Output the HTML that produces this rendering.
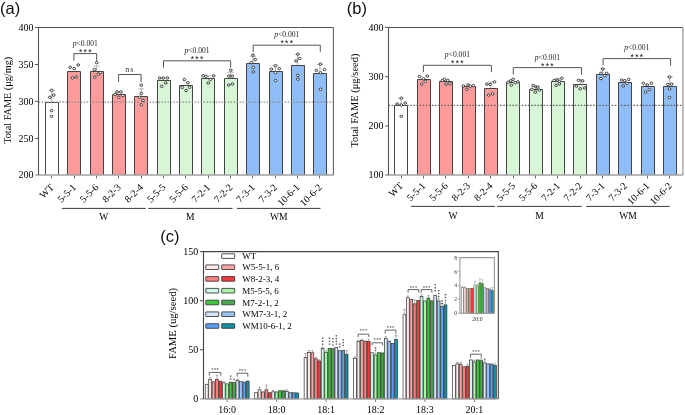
<!DOCTYPE html><html><head><meta charset="utf-8"><style>html,body{margin:0;padding:0;background:#fff;overflow:hidden}svg{display:block;will-change:transform}</style></head><body>
<svg width="685" height="415" viewBox="0 0 685 415" font-family='"Liberation Serif", serif'>
<rect width="685" height="415" fill="#fff"/>
<rect x="45.5" y="102.5" width="13" height="72.6" fill="#ffffff"/>
<path d="M45.5 175.1V102.5H58.5V175.1" fill="none" stroke="#444" stroke-width="1"/>
<rect x="67.5" y="71.5" width="13" height="103.6" fill="#ff9b9b"/>
<path d="M67.5 175.1V71.5H80.5V175.1" fill="none" stroke="#444" stroke-width="1"/>
<rect x="90.5" y="71.5" width="13" height="103.6" fill="#ff9b9b"/>
<path d="M90.5 175.1V71.5H103.5V175.1" fill="none" stroke="#444" stroke-width="1"/>
<rect x="112.5" y="94.5" width="13" height="80.6" fill="#ff9b9b"/>
<path d="M112.5 175.1V94.5H125.5V175.1" fill="none" stroke="#444" stroke-width="1"/>
<rect x="134.5" y="96.5" width="13" height="78.6" fill="#ff9b9b"/>
<path d="M134.5 175.1V96.5H147.5V175.1" fill="none" stroke="#444" stroke-width="1"/>
<rect x="157.5" y="80.5" width="13" height="94.6" fill="#d6f6d6"/>
<path d="M157.5 175.1V80.5H170.5V175.1" fill="none" stroke="#444" stroke-width="1"/>
<rect x="179.5" y="85.5" width="13" height="89.6" fill="#d6f6d6"/>
<path d="M179.5 175.1V85.5H192.5V175.1" fill="none" stroke="#444" stroke-width="1"/>
<rect x="201.5" y="78.5" width="13" height="96.6" fill="#d6f6d6"/>
<path d="M201.5 175.1V78.5H214.5V175.1" fill="none" stroke="#444" stroke-width="1"/>
<rect x="224.5" y="78.5" width="13" height="96.6" fill="#d6f6d6"/>
<path d="M224.5 175.1V78.5H237.5V175.1" fill="none" stroke="#444" stroke-width="1"/>
<rect x="246.5" y="63.5" width="13" height="111.6" fill="#8fbdf7"/>
<path d="M246.5 175.1V63.5H259.5V175.1" fill="none" stroke="#444" stroke-width="1"/>
<rect x="269.5" y="71.5" width="13" height="103.6" fill="#8fbdf7"/>
<path d="M269.5 175.1V71.5H282.5V175.1" fill="none" stroke="#444" stroke-width="1"/>
<rect x="291.5" y="65.5" width="13" height="109.6" fill="#8fbdf7"/>
<path d="M291.5 175.1V65.5H304.5V175.1" fill="none" stroke="#444" stroke-width="1"/>
<rect x="313.5" y="73.5" width="13" height="101.6" fill="#8fbdf7"/>
<path d="M313.5 175.1V73.5H326.5V175.1" fill="none" stroke="#444" stroke-width="1"/>
<line x1="38.5" y1="102.1" x2="333.4" y2="102.1" stroke="#8a8a8a" stroke-width="1.3" stroke-dasharray="1.5 1.5"/>
<line x1="51.9" y1="102.2" x2="51.9" y2="90.3" stroke="#888" stroke-width="0.7"/>
<line x1="48.9" y1="90.3" x2="54.9" y2="90.3" stroke="#999" stroke-width="0.7"/>
<line x1="96.58" y1="71.3" x2="96.58" y2="66" stroke="#888" stroke-width="0.7"/>
<line x1="93.58" y1="66" x2="99.58" y2="66" stroke="#999" stroke-width="0.7"/>
<line x1="141.26" y1="96.3" x2="141.26" y2="88.8" stroke="#888" stroke-width="0.7"/>
<line x1="138.26" y1="88.8" x2="144.26" y2="88.8" stroke="#999" stroke-width="0.7"/>
<line x1="208.28" y1="78.4" x2="208.28" y2="75.8" stroke="#888" stroke-width="0.7"/>
<line x1="205.28" y1="75.8" x2="211.28" y2="75.8" stroke="#999" stroke-width="0.7"/>
<line x1="230.62" y1="78.4" x2="230.62" y2="72.3" stroke="#888" stroke-width="0.7"/>
<line x1="227.62" y1="72.3" x2="233.62" y2="72.3" stroke="#999" stroke-width="0.7"/>
<line x1="252.96" y1="63.3" x2="252.96" y2="56.6" stroke="#888" stroke-width="0.7"/>
<line x1="249.96" y1="56.6" x2="255.96" y2="56.6" stroke="#999" stroke-width="0.7"/>
<line x1="275.3" y1="71.2" x2="275.3" y2="65.5" stroke="#888" stroke-width="0.7"/>
<line x1="272.3" y1="65.5" x2="278.3" y2="65.5" stroke="#999" stroke-width="0.7"/>
<line x1="297.64" y1="65.4" x2="297.64" y2="54.4" stroke="#888" stroke-width="0.7"/>
<line x1="294.64" y1="54.4" x2="300.64" y2="54.4" stroke="#999" stroke-width="0.7"/>
<line x1="319.98" y1="73.3" x2="319.98" y2="64.5" stroke="#888" stroke-width="0.7"/>
<line x1="316.98" y1="64.5" x2="322.98" y2="64.5" stroke="#999" stroke-width="0.7"/>
<ellipse cx="51.6" cy="90.3" rx="1.4" ry="1.2" fill="#fff" stroke="#222" stroke-width="0.85"/>
<ellipse cx="53.7" cy="95.1" rx="1.4" ry="1.2" fill="#fff" stroke="#222" stroke-width="0.85"/>
<ellipse cx="49.9" cy="97.3" rx="1.4" ry="1.2" fill="#fff" stroke="#222" stroke-width="0.85"/>
<ellipse cx="51.6" cy="110.6" rx="1.4" ry="1.2" fill="#fff" stroke="#222" stroke-width="0.85"/>
<ellipse cx="51.6" cy="116.3" rx="1.4" ry="1.2" fill="#fff" stroke="#222" stroke-width="0.85"/>
<ellipse cx="70.2" cy="67.3" rx="1.4" ry="1.2" fill="#fff" stroke="#222" stroke-width="0.85"/>
<ellipse cx="74.2" cy="68.6" rx="1.4" ry="1.2" fill="#fff" stroke="#222" stroke-width="0.85"/>
<ellipse cx="78.2" cy="65" rx="1.4" ry="1.2" fill="#fff" stroke="#222" stroke-width="0.85"/>
<ellipse cx="72.5" cy="77.9" rx="1.4" ry="1.2" fill="#fff" stroke="#222" stroke-width="0.85"/>
<ellipse cx="76.1" cy="77" rx="1.4" ry="1.2" fill="#fff" stroke="#222" stroke-width="0.85"/>
<ellipse cx="96.7" cy="62.7" rx="1.4" ry="1.2" fill="#fff" stroke="#222" stroke-width="0.85"/>
<ellipse cx="94.4" cy="69.5" rx="1.4" ry="1.2" fill="#fff" stroke="#222" stroke-width="0.85"/>
<ellipse cx="98.3" cy="74.3" rx="1.4" ry="1.2" fill="#fff" stroke="#222" stroke-width="0.85"/>
<ellipse cx="100.3" cy="72.6" rx="1.4" ry="1.2" fill="#fff" stroke="#222" stroke-width="0.85"/>
<ellipse cx="94.8" cy="77.2" rx="1.4" ry="1.2" fill="#fff" stroke="#222" stroke-width="0.85"/>
<ellipse cx="115.2" cy="94.4" rx="1.4" ry="1.2" fill="#fff" stroke="#222" stroke-width="0.85"/>
<ellipse cx="117.1" cy="91.9" rx="1.4" ry="1.2" fill="#fff" stroke="#222" stroke-width="0.85"/>
<ellipse cx="118.8" cy="97.3" rx="1.4" ry="1.2" fill="#fff" stroke="#222" stroke-width="0.85"/>
<ellipse cx="120.8" cy="91.9" rx="1.4" ry="1.2" fill="#fff" stroke="#222" stroke-width="0.85"/>
<ellipse cx="122.9" cy="95.4" rx="1.4" ry="1.2" fill="#fff" stroke="#222" stroke-width="0.85"/>
<ellipse cx="141.3" cy="85.2" rx="1.4" ry="1.2" fill="#fff" stroke="#222" stroke-width="0.85"/>
<ellipse cx="141.3" cy="93.4" rx="1.4" ry="1.2" fill="#fff" stroke="#222" stroke-width="0.85"/>
<ellipse cx="139.5" cy="97.3" rx="1.4" ry="1.2" fill="#fff" stroke="#222" stroke-width="0.85"/>
<ellipse cx="143" cy="100.3" rx="1.4" ry="1.2" fill="#fff" stroke="#222" stroke-width="0.85"/>
<ellipse cx="141.3" cy="104.8" rx="1.4" ry="1.2" fill="#fff" stroke="#222" stroke-width="0.85"/>
<ellipse cx="159.7" cy="78.1" rx="1.4" ry="1.2" fill="#fff" stroke="#222" stroke-width="0.85"/>
<ellipse cx="161.7" cy="86.4" rx="1.4" ry="1.2" fill="#fff" stroke="#222" stroke-width="0.85"/>
<ellipse cx="163.2" cy="78.1" rx="1.4" ry="1.2" fill="#fff" stroke="#222" stroke-width="0.85"/>
<ellipse cx="165.8" cy="83" rx="1.4" ry="1.2" fill="#fff" stroke="#222" stroke-width="0.85"/>
<ellipse cx="167.3" cy="77.9" rx="1.4" ry="1.2" fill="#fff" stroke="#222" stroke-width="0.85"/>
<ellipse cx="184.3" cy="79.6" rx="1.4" ry="1.2" fill="#fff" stroke="#222" stroke-width="0.85"/>
<ellipse cx="187.9" cy="82.7" rx="1.4" ry="1.2" fill="#fff" stroke="#222" stroke-width="0.85"/>
<ellipse cx="182.3" cy="87.4" rx="1.4" ry="1.2" fill="#fff" stroke="#222" stroke-width="0.85"/>
<ellipse cx="189.6" cy="87.4" rx="1.4" ry="1.2" fill="#fff" stroke="#222" stroke-width="0.85"/>
<ellipse cx="186.1" cy="90.5" rx="1.4" ry="1.2" fill="#fff" stroke="#222" stroke-width="0.85"/>
<ellipse cx="203.2" cy="75.8" rx="1.4" ry="1.2" fill="#fff" stroke="#222" stroke-width="0.85"/>
<ellipse cx="205.8" cy="76.3" rx="1.4" ry="1.2" fill="#fff" stroke="#222" stroke-width="0.85"/>
<ellipse cx="210.4" cy="79.4" rx="1.4" ry="1.2" fill="#fff" stroke="#222" stroke-width="0.85"/>
<ellipse cx="213.7" cy="75.8" rx="1.4" ry="1.2" fill="#fff" stroke="#222" stroke-width="0.85"/>
<ellipse cx="208.3" cy="83" rx="1.4" ry="1.2" fill="#fff" stroke="#222" stroke-width="0.85"/>
<ellipse cx="230.8" cy="70.2" rx="1.4" ry="1.2" fill="#fff" stroke="#222" stroke-width="0.85"/>
<ellipse cx="228.8" cy="76.1" rx="1.4" ry="1.2" fill="#fff" stroke="#222" stroke-width="0.85"/>
<ellipse cx="232.3" cy="76.1" rx="1.4" ry="1.2" fill="#fff" stroke="#222" stroke-width="0.85"/>
<ellipse cx="228.8" cy="85" rx="1.4" ry="1.2" fill="#fff" stroke="#222" stroke-width="0.85"/>
<ellipse cx="232.5" cy="84" rx="1.4" ry="1.2" fill="#fff" stroke="#222" stroke-width="0.85"/>
<ellipse cx="253" cy="55.1" rx="1.4" ry="1.2" fill="#fff" stroke="#222" stroke-width="0.85"/>
<ellipse cx="255.2" cy="59.5" rx="1.4" ry="1.2" fill="#fff" stroke="#222" stroke-width="0.85"/>
<ellipse cx="251.4" cy="62.6" rx="1.4" ry="1.2" fill="#fff" stroke="#222" stroke-width="0.85"/>
<ellipse cx="253.3" cy="67.4" rx="1.4" ry="1.2" fill="#fff" stroke="#222" stroke-width="0.85"/>
<ellipse cx="253.3" cy="72" rx="1.4" ry="1.2" fill="#fff" stroke="#222" stroke-width="0.85"/>
<ellipse cx="275.5" cy="65.7" rx="1.4" ry="1.2" fill="#fff" stroke="#222" stroke-width="0.85"/>
<ellipse cx="271.3" cy="69.1" rx="1.4" ry="1.2" fill="#fff" stroke="#222" stroke-width="0.85"/>
<ellipse cx="279.3" cy="68.6" rx="1.4" ry="1.2" fill="#fff" stroke="#222" stroke-width="0.85"/>
<ellipse cx="275.5" cy="72.5" rx="1.4" ry="1.2" fill="#fff" stroke="#222" stroke-width="0.85"/>
<ellipse cx="275.5" cy="80.5" rx="1.4" ry="1.2" fill="#fff" stroke="#222" stroke-width="0.85"/>
<ellipse cx="297.8" cy="54.2" rx="1.4" ry="1.2" fill="#fff" stroke="#222" stroke-width="0.85"/>
<ellipse cx="299.7" cy="58.5" rx="1.4" ry="1.2" fill="#fff" stroke="#222" stroke-width="0.85"/>
<ellipse cx="296.1" cy="60.9" rx="1.4" ry="1.2" fill="#fff" stroke="#222" stroke-width="0.85"/>
<ellipse cx="297.8" cy="75.4" rx="1.4" ry="1.2" fill="#fff" stroke="#222" stroke-width="0.85"/>
<ellipse cx="297.8" cy="79.2" rx="1.4" ry="1.2" fill="#fff" stroke="#222" stroke-width="0.85"/>
<ellipse cx="320.5" cy="64.1" rx="1.4" ry="1.2" fill="#fff" stroke="#222" stroke-width="0.85"/>
<ellipse cx="316.4" cy="70.4" rx="1.4" ry="1.2" fill="#fff" stroke="#222" stroke-width="0.85"/>
<ellipse cx="324.5" cy="69.6" rx="1.4" ry="1.2" fill="#fff" stroke="#222" stroke-width="0.85"/>
<ellipse cx="320.5" cy="72.8" rx="1.4" ry="1.2" fill="#fff" stroke="#222" stroke-width="0.85"/>
<ellipse cx="320.5" cy="89.3" rx="1.4" ry="1.2" fill="#fff" stroke="#222" stroke-width="0.85"/>
<line x1="35.2" y1="175.1" x2="333.4" y2="175.1" stroke="#a2a2a2" stroke-width="1.5"/>
<path d="M38.5 175.1V27.5H333.4" fill="none" stroke="#555" stroke-width="1.1"/>
<line x1="333.4" y1="27.5" x2="333.4" y2="175.1" stroke="#666" stroke-width="1.1"/>
<line x1="35" y1="27.5" x2="38.5" y2="27.5" stroke="#555" stroke-width="1"/>
<text x="33.5" y="30.8" font-size="10" text-anchor="end" fill="#000">400</text>
<line x1="35" y1="64.5" x2="38.5" y2="64.5" stroke="#555" stroke-width="1"/>
<text x="33.5" y="67.8" font-size="10" text-anchor="end" fill="#000">350</text>
<line x1="35" y1="101.3" x2="38.5" y2="101.3" stroke="#555" stroke-width="1"/>
<text x="33.5" y="104.6" font-size="10" text-anchor="end" fill="#000">300</text>
<line x1="35" y1="138.4" x2="38.5" y2="138.4" stroke="#555" stroke-width="1"/>
<text x="33.5" y="141.7" font-size="10" text-anchor="end" fill="#000">250</text>
<text x="33.5" y="178.1" font-size="10" text-anchor="end" fill="#000">200</text>
<line x1="51.5" y1="175.79999999999998" x2="51.5" y2="178.4" stroke="#666" stroke-width="1"/>
<text transform="translate(54.5,187.9) rotate(-45)" font-size="10" text-anchor="end" fill="#000">WT</text>
<line x1="74.5" y1="175.79999999999998" x2="74.5" y2="178.4" stroke="#666" stroke-width="1"/>
<text transform="translate(76.84,187.9) rotate(-45)" font-size="10" text-anchor="end" fill="#000">5-5-1</text>
<line x1="96.5" y1="175.79999999999998" x2="96.5" y2="178.4" stroke="#666" stroke-width="1"/>
<text transform="translate(99.18,187.9) rotate(-45)" font-size="10" text-anchor="end" fill="#000">5-5-6</text>
<line x1="118.5" y1="175.79999999999998" x2="118.5" y2="178.4" stroke="#666" stroke-width="1"/>
<text transform="translate(121.52,187.9) rotate(-45)" font-size="10" text-anchor="end" fill="#000">8-2-3</text>
<line x1="141.5" y1="175.79999999999998" x2="141.5" y2="178.4" stroke="#666" stroke-width="1"/>
<text transform="translate(143.86,187.9) rotate(-45)" font-size="10" text-anchor="end" fill="#000">8-2-4</text>
<line x1="163.5" y1="175.79999999999998" x2="163.5" y2="178.4" stroke="#666" stroke-width="1"/>
<text transform="translate(166.2,187.9) rotate(-45)" font-size="10" text-anchor="end" fill="#000">5-5-5</text>
<line x1="185.5" y1="175.79999999999998" x2="185.5" y2="178.4" stroke="#666" stroke-width="1"/>
<text transform="translate(188.54,187.9) rotate(-45)" font-size="10" text-anchor="end" fill="#000">5-5-6</text>
<line x1="208.5" y1="175.79999999999998" x2="208.5" y2="178.4" stroke="#666" stroke-width="1"/>
<text transform="translate(210.88,187.9) rotate(-45)" font-size="10" text-anchor="end" fill="#000">7-2-1</text>
<line x1="230.5" y1="175.79999999999998" x2="230.5" y2="178.4" stroke="#666" stroke-width="1"/>
<text transform="translate(233.22,187.9) rotate(-45)" font-size="10" text-anchor="end" fill="#000">7-2-2</text>
<line x1="252.5" y1="175.79999999999998" x2="252.5" y2="178.4" stroke="#666" stroke-width="1"/>
<text transform="translate(255.56,187.9) rotate(-45)" font-size="10" text-anchor="end" fill="#000">7-3-1</text>
<line x1="275.5" y1="175.79999999999998" x2="275.5" y2="178.4" stroke="#666" stroke-width="1"/>
<text transform="translate(277.9,187.9) rotate(-45)" font-size="10" text-anchor="end" fill="#000">7-3-2</text>
<line x1="297.5" y1="175.79999999999998" x2="297.5" y2="178.4" stroke="#666" stroke-width="1"/>
<text transform="translate(300.24,187.9) rotate(-45)" font-size="10" text-anchor="end" fill="#000">10-6-1</text>
<line x1="319.5" y1="175.79999999999998" x2="319.5" y2="178.4" stroke="#666" stroke-width="1"/>
<text transform="translate(322.58,187.9) rotate(-45)" font-size="10" text-anchor="end" fill="#000">10-6-2</text>
<line x1="61.8" y1="208.4" x2="145.8" y2="208.4" stroke="#3a3a3a" stroke-width="1"/>
<text x="103.8" y="219.8" font-size="9.6" text-anchor="middle" fill="#000">W</text>
<line x1="148.1" y1="208.4" x2="232.5" y2="208.4" stroke="#3a3a3a" stroke-width="1"/>
<text x="190.3" y="219.8" font-size="9.6" text-anchor="middle" fill="#000">M</text>
<line x1="237" y1="208.4" x2="320.5" y2="208.4" stroke="#3a3a3a" stroke-width="1"/>
<text x="278.75" y="219.8" font-size="9.6" text-anchor="middle" fill="#000">WM</text>
<path d="M73.9 60.7V53.6H96.7V61.4" fill="none" stroke="#555" stroke-width="1"/>
<text x="80.7" y="54.8" font-size="8.6" text-anchor="middle" fill="#111" font-family='"Liberation Sans", sans-serif'>*</text>
<text x="85.3" y="54.8" font-size="8.6" text-anchor="middle" fill="#111" font-family='"Liberation Sans", sans-serif'>*</text>
<text x="89.9" y="54.8" font-size="8.6" text-anchor="middle" fill="#111" font-family='"Liberation Sans", sans-serif'>*</text>
<text x="85.3" y="45.6" font-size="7.6" text-anchor="middle" fill="#222"><tspan font-style="italic">p</tspan>&lt;0.001</text>
<path d="M118.6 82V74.5H141.1V82" fill="none" stroke="#555" stroke-width="1"/>
<text x="129.85" y="71.6" font-size="8" text-anchor="middle" fill="#333" letter-spacing="1">ns</text>
<path d="M163.5 67.7V60.8H230.6V67.5" fill="none" stroke="#555" stroke-width="1"/>
<text x="192.45" y="61.7" font-size="8.6" text-anchor="middle" fill="#111" font-family='"Liberation Sans", sans-serif'>*</text>
<text x="197.05" y="61.7" font-size="8.6" text-anchor="middle" fill="#111" font-family='"Liberation Sans", sans-serif'>*</text>
<text x="201.65" y="61.7" font-size="8.6" text-anchor="middle" fill="#111" font-family='"Liberation Sans", sans-serif'>*</text>
<text x="197.05" y="52.9" font-size="7.6" text-anchor="middle" fill="#222"><tspan font-style="italic">p</tspan>&lt;0.001</text>
<path d="M253.2 51.9V45.2H320.3V51.9" fill="none" stroke="#555" stroke-width="1"/>
<text x="282.15" y="45.9" font-size="8.6" text-anchor="middle" fill="#111" font-family='"Liberation Sans", sans-serif'>*</text>
<text x="286.75" y="45.9" font-size="8.6" text-anchor="middle" fill="#111" font-family='"Liberation Sans", sans-serif'>*</text>
<text x="291.35" y="45.9" font-size="8.6" text-anchor="middle" fill="#111" font-family='"Liberation Sans", sans-serif'>*</text>
<text x="286.75" y="37.1" font-size="7.6" text-anchor="middle" fill="#222"><tspan font-style="italic">p</tspan>&lt;0.001</text>
<text transform="translate(10.7,100.3) rotate(-90)" font-size="10.5" text-anchor="middle" fill="#000" textLength="87" lengthAdjust="spacingAndGlyphs">Total FAME (μg/mg)</text>
<text x="0" y="13.6" font-size="16.5" font-family='"Liberation Sans", sans-serif' fill="#111">(a)</text>
<rect x="394.5" y="105.5" width="13" height="69.6" fill="#ffffff"/>
<path d="M394.5 175.1V105.5H407.5V175.1" fill="none" stroke="#444" stroke-width="1"/>
<rect x="417.5" y="79.5" width="13" height="95.6" fill="#ff9b9b"/>
<path d="M417.5 175.1V79.5H430.5V175.1" fill="none" stroke="#444" stroke-width="1"/>
<rect x="439.5" y="81.5" width="13" height="93.6" fill="#ff9b9b"/>
<path d="M439.5 175.1V81.5H452.5V175.1" fill="none" stroke="#444" stroke-width="1"/>
<rect x="462.5" y="86.5" width="13" height="88.6" fill="#ff9b9b"/>
<path d="M462.5 175.1V86.5H475.5V175.1" fill="none" stroke="#444" stroke-width="1"/>
<rect x="484.5" y="88.5" width="13" height="86.6" fill="#ff9b9b"/>
<path d="M484.5 175.1V88.5H497.5V175.1" fill="none" stroke="#444" stroke-width="1"/>
<rect x="506.5" y="82.5" width="13" height="92.6" fill="#d6f6d6"/>
<path d="M506.5 175.1V82.5H519.5V175.1" fill="none" stroke="#444" stroke-width="1"/>
<rect x="529.5" y="89.5" width="13" height="85.6" fill="#d6f6d6"/>
<path d="M529.5 175.1V89.5H542.5V175.1" fill="none" stroke="#444" stroke-width="1"/>
<rect x="551.5" y="81.5" width="13" height="93.6" fill="#d6f6d6"/>
<path d="M551.5 175.1V81.5H564.5V175.1" fill="none" stroke="#444" stroke-width="1"/>
<rect x="573.5" y="84.5" width="13" height="90.6" fill="#d6f6d6"/>
<path d="M573.5 175.1V84.5H586.5V175.1" fill="none" stroke="#444" stroke-width="1"/>
<rect x="596.5" y="74.5" width="13" height="100.6" fill="#8fbdf7"/>
<path d="M596.5 175.1V74.5H609.5V175.1" fill="none" stroke="#444" stroke-width="1"/>
<rect x="618.5" y="82.5" width="13" height="92.6" fill="#8fbdf7"/>
<path d="M618.5 175.1V82.5H631.5V175.1" fill="none" stroke="#444" stroke-width="1"/>
<rect x="641.5" y="86.5" width="13" height="88.6" fill="#8fbdf7"/>
<path d="M641.5 175.1V86.5H654.5V175.1" fill="none" stroke="#444" stroke-width="1"/>
<rect x="663.5" y="86.5" width="13" height="88.6" fill="#8fbdf7"/>
<path d="M663.5 175.1V86.5H676.5V175.1" fill="none" stroke="#444" stroke-width="1"/>
<line x1="388.5" y1="105.4" x2="682.9" y2="105.4" stroke="#666" stroke-width="1.2" stroke-dasharray="1.6 1.5"/>
<line x1="401.1" y1="105" x2="401.1" y2="98.2" stroke="#888" stroke-width="0.7"/>
<line x1="398.1" y1="98.2" x2="404.1" y2="98.2" stroke="#999" stroke-width="0.7"/>
<line x1="490.7" y1="88.3" x2="490.7" y2="82" stroke="#888" stroke-width="0.7"/>
<line x1="487.7" y1="82" x2="493.7" y2="82" stroke="#999" stroke-width="0.7"/>
<line x1="557.9" y1="81.4" x2="557.9" y2="78.5" stroke="#888" stroke-width="0.7"/>
<line x1="554.9" y1="78.5" x2="560.9" y2="78.5" stroke="#999" stroke-width="0.7"/>
<line x1="580.3" y1="84.4" x2="580.3" y2="79.5" stroke="#888" stroke-width="0.7"/>
<line x1="577.3" y1="79.5" x2="583.3" y2="79.5" stroke="#999" stroke-width="0.7"/>
<line x1="602.7" y1="74.3" x2="602.7" y2="68.8" stroke="#888" stroke-width="0.7"/>
<line x1="599.7" y1="68.8" x2="605.7" y2="68.8" stroke="#999" stroke-width="0.7"/>
<line x1="669.9" y1="86.5" x2="669.9" y2="76.9" stroke="#888" stroke-width="0.7"/>
<line x1="666.9" y1="76.9" x2="672.9" y2="76.9" stroke="#999" stroke-width="0.7"/>
<ellipse cx="401.3" cy="98.2" rx="1.4" ry="1.2" fill="#fff" stroke="#222" stroke-width="0.85"/>
<ellipse cx="397.2" cy="104" rx="1.4" ry="1.2" fill="#fff" stroke="#222" stroke-width="0.85"/>
<ellipse cx="401.3" cy="105" rx="1.4" ry="1.2" fill="#fff" stroke="#222" stroke-width="0.85"/>
<ellipse cx="405.2" cy="103" rx="1.4" ry="1.2" fill="#fff" stroke="#222" stroke-width="0.85"/>
<ellipse cx="401.3" cy="116.3" rx="1.4" ry="1.2" fill="#fff" stroke="#222" stroke-width="0.85"/>
<ellipse cx="419.6" cy="76.5" rx="1.4" ry="1.2" fill="#fff" stroke="#222" stroke-width="0.85"/>
<ellipse cx="423.5" cy="78.7" rx="1.4" ry="1.2" fill="#fff" stroke="#222" stroke-width="0.85"/>
<ellipse cx="427.3" cy="76.1" rx="1.4" ry="1.2" fill="#fff" stroke="#222" stroke-width="0.85"/>
<ellipse cx="425.4" cy="81.3" rx="1.4" ry="1.2" fill="#fff" stroke="#222" stroke-width="0.85"/>
<ellipse cx="421.8" cy="84.2" rx="1.4" ry="1.2" fill="#fff" stroke="#222" stroke-width="0.85"/>
<ellipse cx="442.4" cy="80.5" rx="1.4" ry="1.2" fill="#fff" stroke="#222" stroke-width="0.85"/>
<ellipse cx="444.4" cy="79.3" rx="1.4" ry="1.2" fill="#fff" stroke="#222" stroke-width="0.85"/>
<ellipse cx="447.8" cy="80.3" rx="1.4" ry="1.2" fill="#fff" stroke="#222" stroke-width="0.85"/>
<ellipse cx="446" cy="84.2" rx="1.4" ry="1.2" fill="#fff" stroke="#222" stroke-width="0.85"/>
<ellipse cx="449.8" cy="83.7" rx="1.4" ry="1.2" fill="#fff" stroke="#222" stroke-width="0.85"/>
<ellipse cx="463.4" cy="85.9" rx="1.4" ry="1.2" fill="#fff" stroke="#222" stroke-width="0.85"/>
<ellipse cx="468.2" cy="84.9" rx="1.4" ry="1.2" fill="#fff" stroke="#222" stroke-width="0.85"/>
<ellipse cx="470.3" cy="86.3" rx="1.4" ry="1.2" fill="#fff" stroke="#222" stroke-width="0.85"/>
<ellipse cx="473.3" cy="85.7" rx="1.4" ry="1.2" fill="#fff" stroke="#222" stroke-width="0.85"/>
<ellipse cx="466.9" cy="89.3" rx="1.4" ry="1.2" fill="#fff" stroke="#222" stroke-width="0.85"/>
<ellipse cx="486.9" cy="84.2" rx="1.4" ry="1.2" fill="#fff" stroke="#222" stroke-width="0.85"/>
<ellipse cx="490.2" cy="84.4" rx="1.4" ry="1.2" fill="#fff" stroke="#222" stroke-width="0.85"/>
<ellipse cx="494.5" cy="81.9" rx="1.4" ry="1.2" fill="#fff" stroke="#222" stroke-width="0.85"/>
<ellipse cx="488.6" cy="95.1" rx="1.4" ry="1.2" fill="#fff" stroke="#222" stroke-width="0.85"/>
<ellipse cx="492.7" cy="93.8" rx="1.4" ry="1.2" fill="#fff" stroke="#222" stroke-width="0.85"/>
<ellipse cx="508.2" cy="82.2" rx="1.4" ry="1.2" fill="#fff" stroke="#222" stroke-width="0.85"/>
<ellipse cx="510.7" cy="80.8" rx="1.4" ry="1.2" fill="#fff" stroke="#222" stroke-width="0.85"/>
<ellipse cx="513.1" cy="79.3" rx="1.4" ry="1.2" fill="#fff" stroke="#222" stroke-width="0.85"/>
<ellipse cx="515.1" cy="82.6" rx="1.4" ry="1.2" fill="#fff" stroke="#222" stroke-width="0.85"/>
<ellipse cx="517.9" cy="81.9" rx="1.4" ry="1.2" fill="#fff" stroke="#222" stroke-width="0.85"/>
<ellipse cx="511.4" cy="85.2" rx="1.4" ry="1.2" fill="#fff" stroke="#222" stroke-width="0.85"/>
<ellipse cx="533.2" cy="85.4" rx="1.4" ry="1.2" fill="#fff" stroke="#222" stroke-width="0.85"/>
<ellipse cx="531.9" cy="89.3" rx="1.4" ry="1.2" fill="#fff" stroke="#222" stroke-width="0.85"/>
<ellipse cx="536" cy="87" rx="1.4" ry="1.2" fill="#fff" stroke="#222" stroke-width="0.85"/>
<ellipse cx="537.8" cy="87" rx="1.4" ry="1.2" fill="#fff" stroke="#222" stroke-width="0.85"/>
<ellipse cx="539.3" cy="90" rx="1.4" ry="1.2" fill="#fff" stroke="#222" stroke-width="0.85"/>
<ellipse cx="535.3" cy="92.1" rx="1.4" ry="1.2" fill="#fff" stroke="#222" stroke-width="0.85"/>
<ellipse cx="554.2" cy="80.5" rx="1.4" ry="1.2" fill="#fff" stroke="#222" stroke-width="0.85"/>
<ellipse cx="557.2" cy="80.1" rx="1.4" ry="1.2" fill="#fff" stroke="#222" stroke-width="0.85"/>
<ellipse cx="559.3" cy="81.4" rx="1.4" ry="1.2" fill="#fff" stroke="#222" stroke-width="0.85"/>
<ellipse cx="561.8" cy="78.3" rx="1.4" ry="1.2" fill="#fff" stroke="#222" stroke-width="0.85"/>
<ellipse cx="556" cy="85.4" rx="1.4" ry="1.2" fill="#fff" stroke="#222" stroke-width="0.85"/>
<ellipse cx="559.3" cy="83.9" rx="1.4" ry="1.2" fill="#fff" stroke="#222" stroke-width="0.85"/>
<ellipse cx="578.5" cy="80.3" rx="1.4" ry="1.2" fill="#fff" stroke="#222" stroke-width="0.85"/>
<ellipse cx="582.6" cy="81" rx="1.4" ry="1.2" fill="#fff" stroke="#222" stroke-width="0.85"/>
<ellipse cx="576.4" cy="86.1" rx="1.4" ry="1.2" fill="#fff" stroke="#222" stroke-width="0.85"/>
<ellipse cx="580.2" cy="88.8" rx="1.4" ry="1.2" fill="#fff" stroke="#222" stroke-width="0.85"/>
<ellipse cx="584.8" cy="88" rx="1.4" ry="1.2" fill="#fff" stroke="#222" stroke-width="0.85"/>
<ellipse cx="602.8" cy="69" rx="1.4" ry="1.2" fill="#fff" stroke="#222" stroke-width="0.85"/>
<ellipse cx="600.9" cy="73.3" rx="1.4" ry="1.2" fill="#fff" stroke="#222" stroke-width="0.85"/>
<ellipse cx="606.7" cy="73.3" rx="1.4" ry="1.2" fill="#fff" stroke="#222" stroke-width="0.85"/>
<ellipse cx="604.7" cy="75.7" rx="1.4" ry="1.2" fill="#fff" stroke="#222" stroke-width="0.85"/>
<ellipse cx="600.9" cy="78.6" rx="1.4" ry="1.2" fill="#fff" stroke="#222" stroke-width="0.85"/>
<ellipse cx="621.6" cy="80.1" rx="1.4" ry="1.2" fill="#fff" stroke="#222" stroke-width="0.85"/>
<ellipse cx="624.8" cy="80.7" rx="1.4" ry="1.2" fill="#fff" stroke="#222" stroke-width="0.85"/>
<ellipse cx="628.8" cy="79.4" rx="1.4" ry="1.2" fill="#fff" stroke="#222" stroke-width="0.85"/>
<ellipse cx="626.9" cy="83.3" rx="1.4" ry="1.2" fill="#fff" stroke="#222" stroke-width="0.85"/>
<ellipse cx="623.2" cy="86" rx="1.4" ry="1.2" fill="#fff" stroke="#222" stroke-width="0.85"/>
<ellipse cx="643.4" cy="83.3" rx="1.4" ry="1.2" fill="#fff" stroke="#222" stroke-width="0.85"/>
<ellipse cx="647.2" cy="84.9" rx="1.4" ry="1.2" fill="#fff" stroke="#222" stroke-width="0.85"/>
<ellipse cx="651.4" cy="83.3" rx="1.4" ry="1.2" fill="#fff" stroke="#222" stroke-width="0.85"/>
<ellipse cx="645.6" cy="92.2" rx="1.4" ry="1.2" fill="#fff" stroke="#222" stroke-width="0.85"/>
<ellipse cx="649.3" cy="89.7" rx="1.4" ry="1.2" fill="#fff" stroke="#222" stroke-width="0.85"/>
<ellipse cx="669.5" cy="76.9" rx="1.4" ry="1.2" fill="#fff" stroke="#222" stroke-width="0.85"/>
<ellipse cx="667.9" cy="84.4" rx="1.4" ry="1.2" fill="#fff" stroke="#222" stroke-width="0.85"/>
<ellipse cx="671.7" cy="84.1" rx="1.4" ry="1.2" fill="#fff" stroke="#222" stroke-width="0.85"/>
<ellipse cx="669.5" cy="89" rx="1.4" ry="1.2" fill="#fff" stroke="#222" stroke-width="0.85"/>
<ellipse cx="669.5" cy="97.5" rx="1.4" ry="1.2" fill="#fff" stroke="#222" stroke-width="0.85"/>
<line x1="385.2" y1="175.1" x2="682.9" y2="175.1" stroke="#a2a2a2" stroke-width="1.5"/>
<path d="M388.5 175.1V27.5H682.9" fill="none" stroke="#555" stroke-width="1.1"/>
<line x1="682.9" y1="27.5" x2="682.9" y2="175.1" stroke="#888" stroke-width="1.1"/>
<line x1="385" y1="27.4" x2="388.5" y2="27.4" stroke="#555" stroke-width="1"/>
<text x="383.5" y="30.7" font-size="10" text-anchor="end" fill="#000">400</text>
<line x1="385" y1="76.7" x2="388.5" y2="76.7" stroke="#555" stroke-width="1"/>
<text x="383.5" y="80" font-size="10" text-anchor="end" fill="#000">300</text>
<line x1="385" y1="126" x2="388.5" y2="126" stroke="#555" stroke-width="1"/>
<text x="383.5" y="129.3" font-size="10" text-anchor="end" fill="#000">200</text>
<text x="383.5" y="178.1" font-size="10" text-anchor="end" fill="#000">100</text>
<line x1="401.5" y1="175.79999999999998" x2="401.5" y2="178.4" stroke="#666" stroke-width="1"/>
<text transform="translate(403.7,186.4) rotate(-45)" font-size="10" text-anchor="end" fill="#000">WT</text>
<line x1="423.5" y1="175.79999999999998" x2="423.5" y2="178.4" stroke="#666" stroke-width="1"/>
<text transform="translate(426.1,186.4) rotate(-45)" font-size="10" text-anchor="end" fill="#000">5-5-1</text>
<line x1="445.5" y1="175.79999999999998" x2="445.5" y2="178.4" stroke="#666" stroke-width="1"/>
<text transform="translate(448.5,186.4) rotate(-45)" font-size="10" text-anchor="end" fill="#000">5-5-6</text>
<line x1="468.5" y1="175.79999999999998" x2="468.5" y2="178.4" stroke="#666" stroke-width="1"/>
<text transform="translate(470.9,186.4) rotate(-45)" font-size="10" text-anchor="end" fill="#000">8-2-3</text>
<line x1="490.5" y1="175.79999999999998" x2="490.5" y2="178.4" stroke="#666" stroke-width="1"/>
<text transform="translate(493.3,186.4) rotate(-45)" font-size="10" text-anchor="end" fill="#000">8-2-4</text>
<line x1="513.5" y1="175.79999999999998" x2="513.5" y2="178.4" stroke="#666" stroke-width="1"/>
<text transform="translate(515.7,186.4) rotate(-45)" font-size="10" text-anchor="end" fill="#000">5-5-5</text>
<line x1="535.5" y1="175.79999999999998" x2="535.5" y2="178.4" stroke="#666" stroke-width="1"/>
<text transform="translate(538.1,186.4) rotate(-45)" font-size="10" text-anchor="end" fill="#000">5-5-6</text>
<line x1="557.5" y1="175.79999999999998" x2="557.5" y2="178.4" stroke="#666" stroke-width="1"/>
<text transform="translate(560.5,186.4) rotate(-45)" font-size="10" text-anchor="end" fill="#000">7-2-1</text>
<line x1="580.5" y1="175.79999999999998" x2="580.5" y2="178.4" stroke="#666" stroke-width="1"/>
<text transform="translate(582.9,186.4) rotate(-45)" font-size="10" text-anchor="end" fill="#000">7-2-2</text>
<line x1="602.5" y1="175.79999999999998" x2="602.5" y2="178.4" stroke="#666" stroke-width="1"/>
<text transform="translate(605.3,186.4) rotate(-45)" font-size="10" text-anchor="end" fill="#000">7-3-1</text>
<line x1="625.5" y1="175.79999999999998" x2="625.5" y2="178.4" stroke="#666" stroke-width="1"/>
<text transform="translate(627.7,186.4) rotate(-45)" font-size="10" text-anchor="end" fill="#000">7-3-2</text>
<line x1="647.5" y1="175.79999999999998" x2="647.5" y2="178.4" stroke="#666" stroke-width="1"/>
<text transform="translate(650.1,186.4) rotate(-45)" font-size="10" text-anchor="end" fill="#000">10-6-1</text>
<line x1="669.5" y1="175.79999999999998" x2="669.5" y2="178.4" stroke="#666" stroke-width="1"/>
<text transform="translate(672.5,186.4) rotate(-45)" font-size="10" text-anchor="end" fill="#000">10-6-2</text>
<line x1="411" y1="206.4" x2="495" y2="206.4" stroke="#3a3a3a" stroke-width="1"/>
<text x="453" y="218.7" font-size="9.6" text-anchor="middle" fill="#000">W</text>
<line x1="497.3" y1="206.4" x2="581.7" y2="206.4" stroke="#3a3a3a" stroke-width="1"/>
<text x="539.5" y="218.7" font-size="9.6" text-anchor="middle" fill="#000">M</text>
<line x1="586.2" y1="206.4" x2="669.7" y2="206.4" stroke="#3a3a3a" stroke-width="1"/>
<text x="627.95" y="218.7" font-size="9.6" text-anchor="middle" fill="#000">WM</text>
<path d="M423.4 72.1V65.3H491.4V72.2" fill="none" stroke="#555" stroke-width="1"/>
<text x="452.8" y="65.8" font-size="8.6" text-anchor="middle" fill="#111" font-family='"Liberation Sans", sans-serif'>*</text>
<text x="457.4" y="65.8" font-size="8.6" text-anchor="middle" fill="#111" font-family='"Liberation Sans", sans-serif'>*</text>
<text x="462" y="65.8" font-size="8.6" text-anchor="middle" fill="#111" font-family='"Liberation Sans", sans-serif'>*</text>
<text x="457.4" y="57.3" font-size="7.6" text-anchor="middle" fill="#222"><tspan font-style="italic">p</tspan>&lt;0.001</text>
<path d="M513.3 74.7V67.6H581.5V74.8" fill="none" stroke="#555" stroke-width="1"/>
<text x="542.8" y="68.6" font-size="8.6" text-anchor="middle" fill="#111" font-family='"Liberation Sans", sans-serif'>*</text>
<text x="547.4" y="68.6" font-size="8.6" text-anchor="middle" fill="#111" font-family='"Liberation Sans", sans-serif'>*</text>
<text x="552" y="68.6" font-size="8.6" text-anchor="middle" fill="#111" font-family='"Liberation Sans", sans-serif'>*</text>
<text x="547.4" y="59.5" font-size="7.6" text-anchor="middle" fill="#222"><tspan font-style="italic">p</tspan>&lt;0.001</text>
<path d="M603.1 65.3V58.6H670.6V65.7" fill="none" stroke="#555" stroke-width="1"/>
<text x="632.25" y="59.5" font-size="8.6" text-anchor="middle" fill="#111" font-family='"Liberation Sans", sans-serif'>*</text>
<text x="636.85" y="59.5" font-size="8.6" text-anchor="middle" fill="#111" font-family='"Liberation Sans", sans-serif'>*</text>
<text x="641.45" y="59.5" font-size="8.6" text-anchor="middle" fill="#111" font-family='"Liberation Sans", sans-serif'>*</text>
<text x="636.85" y="50.4" font-size="7.6" text-anchor="middle" fill="#222"><tspan font-style="italic">p</tspan>&lt;0.001</text>
<text transform="translate(358.2,100.6) rotate(-90)" font-size="10.5" text-anchor="middle" fill="#000" textLength="94" lengthAdjust="spacingAndGlyphs">Total FAME (μg/seed)</text>
<text x="346.8" y="13.6" font-size="16.5" font-family='"Liberation Sans", sans-serif' fill="#111">(b)</text>
<rect x="205.27" y="384.65" width="2.82" height="14.25" fill="#ffffff" stroke="#333" stroke-width="0.7"/>
<rect x="208.69" y="379.55" width="2.82" height="19.35" fill="#ffe8e8" stroke="#333" stroke-width="0.7"/>
<rect x="212.11" y="381.85" width="2.82" height="17.05" fill="#ffa3a3" stroke="#333" stroke-width="0.7"/>
<rect x="215.53" y="379.35" width="2.82" height="19.55" fill="#ff8080" stroke="#333" stroke-width="0.7"/>
<rect x="218.95" y="381.15" width="2.82" height="17.75" fill="#f63a3a" stroke="#333" stroke-width="0.7"/>
<rect x="222.37" y="382.85" width="2.82" height="16.05" fill="#cdf6e6" stroke="#333" stroke-width="0.7"/>
<rect x="225.79" y="383.85" width="2.82" height="15.05" fill="#a8f7a8" stroke="#333" stroke-width="0.7"/>
<rect x="229.21" y="382.15" width="2.82" height="16.75" fill="#3cc83c" stroke="#333" stroke-width="0.7"/>
<rect x="232.63" y="382.65" width="2.82" height="16.25" fill="#4ca64c" stroke="#333" stroke-width="0.7"/>
<rect x="236.05" y="380.65" width="2.82" height="18.25" fill="#d3e5fd" stroke="#333" stroke-width="0.7"/>
<rect x="239.47" y="381.65" width="2.82" height="17.25" fill="#9ac4f6" stroke="#333" stroke-width="0.7"/>
<rect x="242.89" y="382.15" width="2.82" height="16.75" fill="#5a9ef6" stroke="#333" stroke-width="0.7"/>
<rect x="246.31" y="381.45" width="2.82" height="17.45" fill="#138fa6" stroke="#333" stroke-width="0.7"/>
<rect x="254.71" y="392.55" width="2.82" height="6.35" fill="#ffffff" stroke="#333" stroke-width="0.7"/>
<rect x="258.13" y="389.75" width="2.82" height="9.15" fill="#ffe8e8" stroke="#333" stroke-width="0.7"/>
<rect x="261.55" y="391.95" width="2.82" height="6.95" fill="#ffa3a3" stroke="#333" stroke-width="0.7"/>
<rect x="264.97" y="389.75" width="2.82" height="9.15" fill="#ff8080" stroke="#333" stroke-width="0.7"/>
<rect x="268.39" y="392.75" width="2.82" height="6.15" fill="#f63a3a" stroke="#333" stroke-width="0.7"/>
<rect x="271.81" y="391.75" width="2.82" height="7.15" fill="#cdf6e6" stroke="#333" stroke-width="0.7"/>
<rect x="275.23" y="391.95" width="2.82" height="6.95" fill="#a8f7a8" stroke="#333" stroke-width="0.7"/>
<rect x="278.65" y="390.75" width="2.82" height="8.15" fill="#3cc83c" stroke="#333" stroke-width="0.7"/>
<rect x="282.07" y="390.75" width="2.82" height="8.15" fill="#4ca64c" stroke="#333" stroke-width="0.7"/>
<rect x="285.49" y="391.35" width="2.82" height="7.55" fill="#d3e5fd" stroke="#333" stroke-width="0.7"/>
<rect x="288.91" y="392.75" width="2.82" height="6.15" fill="#9ac4f6" stroke="#333" stroke-width="0.7"/>
<rect x="292.33" y="392.75" width="2.82" height="6.15" fill="#5a9ef6" stroke="#333" stroke-width="0.7"/>
<rect x="295.75" y="392.95" width="2.82" height="5.95" fill="#138fa6" stroke="#333" stroke-width="0.7"/>
<rect x="304.15" y="357.65" width="2.82" height="41.25" fill="#ffffff" stroke="#333" stroke-width="0.7"/>
<rect x="307.57" y="352.55" width="2.82" height="46.35" fill="#ffe8e8" stroke="#333" stroke-width="0.7"/>
<rect x="310.99" y="352.75" width="2.82" height="46.15" fill="#ffa3a3" stroke="#333" stroke-width="0.7"/>
<rect x="314.41" y="358.85" width="2.82" height="40.05" fill="#ff8080" stroke="#333" stroke-width="0.7"/>
<rect x="317.83" y="360.85" width="2.82" height="38.05" fill="#f63a3a" stroke="#333" stroke-width="0.7"/>
<rect x="321.25" y="348.55" width="2.82" height="50.35" fill="#cdf6e6" stroke="#333" stroke-width="0.7"/>
<rect x="324.67" y="352.55" width="2.82" height="46.35" fill="#a8f7a8" stroke="#333" stroke-width="0.7"/>
<rect x="328.09" y="348.55" width="2.82" height="50.35" fill="#3cc83c" stroke="#333" stroke-width="0.7"/>
<rect x="331.51" y="348.75" width="2.82" height="50.15" fill="#4ca64c" stroke="#333" stroke-width="0.7"/>
<rect x="334.93" y="347.45" width="2.82" height="51.45" fill="#d3e5fd" stroke="#333" stroke-width="0.7"/>
<rect x="338.35" y="350.75" width="2.82" height="48.15" fill="#9ac4f6" stroke="#333" stroke-width="0.7"/>
<rect x="341.77" y="350.25" width="2.82" height="48.65" fill="#5a9ef6" stroke="#333" stroke-width="0.7"/>
<rect x="345.19" y="354.25" width="2.82" height="44.65" fill="#138fa6" stroke="#333" stroke-width="0.7"/>
<rect x="353.59" y="358.65" width="2.82" height="40.25" fill="#ffffff" stroke="#333" stroke-width="0.7"/>
<rect x="357.01" y="341.65" width="2.82" height="57.25" fill="#ffe8e8" stroke="#333" stroke-width="0.7"/>
<rect x="360.43" y="340.65" width="2.82" height="58.25" fill="#ffa3a3" stroke="#333" stroke-width="0.7"/>
<rect x="363.85" y="341.15" width="2.82" height="57.75" fill="#ff8080" stroke="#333" stroke-width="0.7"/>
<rect x="367.27" y="341.45" width="2.82" height="57.45" fill="#f63a3a" stroke="#333" stroke-width="0.7"/>
<rect x="370.69" y="352.75" width="2.82" height="46.15" fill="#cdf6e6" stroke="#333" stroke-width="0.7"/>
<rect x="374.11" y="355.05" width="2.82" height="43.85" fill="#a8f7a8" stroke="#333" stroke-width="0.7"/>
<rect x="377.53" y="352.75" width="2.82" height="46.15" fill="#3cc83c" stroke="#333" stroke-width="0.7"/>
<rect x="380.95" y="352.95" width="2.82" height="45.95" fill="#4ca64c" stroke="#333" stroke-width="0.7"/>
<rect x="384.37" y="338.55" width="2.82" height="60.35" fill="#d3e5fd" stroke="#333" stroke-width="0.7"/>
<rect x="387.79" y="341.15" width="2.82" height="57.75" fill="#9ac4f6" stroke="#333" stroke-width="0.7"/>
<rect x="391.21" y="343.45" width="2.82" height="55.45" fill="#5a9ef6" stroke="#333" stroke-width="0.7"/>
<rect x="394.63" y="339.55" width="2.82" height="59.35" fill="#138fa6" stroke="#333" stroke-width="0.7"/>
<rect x="403.03" y="314.75" width="2.82" height="84.15" fill="#ffffff" stroke="#333" stroke-width="0.7"/>
<rect x="406.45" y="297.75" width="2.82" height="101.15" fill="#ffe8e8" stroke="#333" stroke-width="0.7"/>
<rect x="409.87" y="299.35" width="2.82" height="99.55" fill="#ffa3a3" stroke="#333" stroke-width="0.7"/>
<rect x="413.29" y="303.85" width="2.82" height="95.05" fill="#ff8080" stroke="#333" stroke-width="0.7"/>
<rect x="416.71" y="300.45" width="2.82" height="98.45" fill="#f63a3a" stroke="#333" stroke-width="0.7"/>
<rect x="420.13" y="296.55" width="2.82" height="102.35" fill="#cdf6e6" stroke="#333" stroke-width="0.7"/>
<rect x="423.55" y="300.95" width="2.82" height="97.95" fill="#a8f7a8" stroke="#333" stroke-width="0.7"/>
<rect x="426.97" y="298.05" width="2.82" height="100.85" fill="#3cc83c" stroke="#333" stroke-width="0.7"/>
<rect x="430.39" y="300.85" width="2.82" height="98.05" fill="#4ca64c" stroke="#333" stroke-width="0.7"/>
<rect x="433.81" y="295.55" width="2.82" height="103.35" fill="#d3e5fd" stroke="#333" stroke-width="0.7"/>
<rect x="437.23" y="300.95" width="2.82" height="97.95" fill="#9ac4f6" stroke="#333" stroke-width="0.7"/>
<rect x="440.65" y="306.65" width="2.82" height="92.25" fill="#5a9ef6" stroke="#333" stroke-width="0.7"/>
<rect x="444.07" y="304.85" width="2.82" height="94.05" fill="#138fa6" stroke="#333" stroke-width="0.7"/>
<rect x="452.47" y="365.65" width="2.82" height="33.25" fill="#ffffff" stroke="#333" stroke-width="0.7"/>
<rect x="455.89" y="363.85" width="2.82" height="35.05" fill="#ffe8e8" stroke="#333" stroke-width="0.7"/>
<rect x="459.31" y="364.25" width="2.82" height="34.65" fill="#ffa3a3" stroke="#333" stroke-width="0.7"/>
<rect x="462.73" y="366.75" width="2.82" height="32.15" fill="#ff8080" stroke="#333" stroke-width="0.7"/>
<rect x="466.15" y="366.55" width="2.82" height="32.35" fill="#f63a3a" stroke="#333" stroke-width="0.7"/>
<rect x="469.57" y="359.95" width="2.82" height="38.95" fill="#cdf6e6" stroke="#333" stroke-width="0.7"/>
<rect x="472.99" y="361.85" width="2.82" height="37.05" fill="#a8f7a8" stroke="#333" stroke-width="0.7"/>
<rect x="476.41" y="359.95" width="2.82" height="38.95" fill="#3cc83c" stroke="#333" stroke-width="0.7"/>
<rect x="479.83" y="360.75" width="2.82" height="38.15" fill="#4ca64c" stroke="#333" stroke-width="0.7"/>
<rect x="483.25" y="362.95" width="2.82" height="35.95" fill="#d3e5fd" stroke="#333" stroke-width="0.7"/>
<rect x="486.67" y="363.85" width="2.82" height="35.05" fill="#9ac4f6" stroke="#333" stroke-width="0.7"/>
<rect x="490.09" y="364.05" width="2.82" height="34.85" fill="#5a9ef6" stroke="#333" stroke-width="0.7"/>
<rect x="493.51" y="365.65" width="2.82" height="33.25" fill="#138fa6" stroke="#333" stroke-width="0.7"/>
<line x1="206.68" y1="384.3" x2="206.68" y2="384.2" stroke="#777" stroke-width="0.6"/>
<line x1="205.48" y1="384.2" x2="207.88" y2="384.2" stroke="#777" stroke-width="0.6"/>
<line x1="210.1" y1="379.2" x2="210.1" y2="377.6" stroke="#777" stroke-width="0.6"/>
<line x1="208.9" y1="377.6" x2="211.3" y2="377.6" stroke="#777" stroke-width="0.6"/>
<line x1="216.94" y1="379" x2="216.94" y2="375.3" stroke="#777" stroke-width="0.6"/>
<line x1="215.74" y1="375.3" x2="218.14" y2="375.3" stroke="#777" stroke-width="0.6"/>
<line x1="223.78" y1="382.5" x2="223.78" y2="381.7" stroke="#777" stroke-width="0.6"/>
<line x1="222.58" y1="381.7" x2="224.98" y2="381.7" stroke="#777" stroke-width="0.6"/>
<line x1="237.46" y1="380.3" x2="237.46" y2="379.2" stroke="#777" stroke-width="0.6"/>
<line x1="236.26" y1="379.2" x2="238.66" y2="379.2" stroke="#777" stroke-width="0.6"/>
<line x1="247.72" y1="381.1" x2="247.72" y2="380.3" stroke="#777" stroke-width="0.6"/>
<line x1="246.52" y1="380.3" x2="248.92" y2="380.3" stroke="#777" stroke-width="0.6"/>
<line x1="259.54" y1="389.4" x2="259.54" y2="387.3" stroke="#777" stroke-width="0.6"/>
<line x1="258.34" y1="387.3" x2="260.74" y2="387.3" stroke="#777" stroke-width="0.6"/>
<line x1="266.38" y1="389.4" x2="266.38" y2="385" stroke="#777" stroke-width="0.6"/>
<line x1="265.18" y1="385" x2="267.58" y2="385" stroke="#777" stroke-width="0.6"/>
<line x1="273.22" y1="391.4" x2="273.22" y2="390.6" stroke="#777" stroke-width="0.6"/>
<line x1="272.02" y1="390.6" x2="274.42" y2="390.6" stroke="#777" stroke-width="0.6"/>
<line x1="286.9" y1="391" x2="286.9" y2="389.8" stroke="#777" stroke-width="0.6"/>
<line x1="285.7" y1="389.8" x2="288.1" y2="389.8" stroke="#777" stroke-width="0.6"/>
<line x1="305.56" y1="357.3" x2="305.56" y2="353.3" stroke="#777" stroke-width="0.6"/>
<line x1="304.36" y1="353.3" x2="306.76" y2="353.3" stroke="#777" stroke-width="0.6"/>
<line x1="308.98" y1="352.2" x2="308.98" y2="350.7" stroke="#777" stroke-width="0.6"/>
<line x1="307.78" y1="350.7" x2="310.18" y2="350.7" stroke="#777" stroke-width="0.6"/>
<line x1="312.4" y1="352.4" x2="312.4" y2="350.7" stroke="#777" stroke-width="0.6"/>
<line x1="311.2" y1="350.7" x2="313.6" y2="350.7" stroke="#777" stroke-width="0.6"/>
<line x1="315.82" y1="358.5" x2="315.82" y2="357.5" stroke="#777" stroke-width="0.6"/>
<line x1="314.62" y1="357.5" x2="317.02" y2="357.5" stroke="#777" stroke-width="0.6"/>
<line x1="319.24" y1="360.5" x2="319.24" y2="359.8" stroke="#777" stroke-width="0.6"/>
<line x1="318.04" y1="359.8" x2="320.44" y2="359.8" stroke="#777" stroke-width="0.6"/>
<line x1="322.66" y1="348.2" x2="322.66" y2="347" stroke="#777" stroke-width="0.6"/>
<line x1="321.46" y1="347" x2="323.86" y2="347" stroke="#777" stroke-width="0.6"/>
<line x1="346.6" y1="353.9" x2="346.6" y2="350.6" stroke="#777" stroke-width="0.6"/>
<line x1="345.4" y1="350.6" x2="347.8" y2="350.6" stroke="#777" stroke-width="0.6"/>
<line x1="326.08" y1="352.2" x2="326.08" y2="350.8" stroke="#777" stroke-width="0.6"/>
<line x1="324.88" y1="350.8" x2="327.28" y2="350.8" stroke="#777" stroke-width="0.6"/>
<line x1="355" y1="358.3" x2="355" y2="356.6" stroke="#777" stroke-width="0.6"/>
<line x1="353.8" y1="356.6" x2="356.2" y2="356.6" stroke="#777" stroke-width="0.6"/>
<line x1="358.42" y1="341.3" x2="358.42" y2="340.2" stroke="#777" stroke-width="0.6"/>
<line x1="357.22" y1="340.2" x2="359.62" y2="340.2" stroke="#777" stroke-width="0.6"/>
<line x1="361.84" y1="340.3" x2="361.84" y2="339.3" stroke="#777" stroke-width="0.6"/>
<line x1="360.64" y1="339.3" x2="363.04" y2="339.3" stroke="#777" stroke-width="0.6"/>
<line x1="368.68" y1="341.1" x2="368.68" y2="339.2" stroke="#777" stroke-width="0.6"/>
<line x1="367.48" y1="339.2" x2="369.88" y2="339.2" stroke="#777" stroke-width="0.6"/>
<line x1="385.78" y1="338.2" x2="385.78" y2="336.4" stroke="#777" stroke-width="0.6"/>
<line x1="384.58" y1="336.4" x2="386.98" y2="336.4" stroke="#777" stroke-width="0.6"/>
<line x1="396.04" y1="339.2" x2="396.04" y2="335.5" stroke="#777" stroke-width="0.6"/>
<line x1="394.84" y1="335.5" x2="397.24" y2="335.5" stroke="#777" stroke-width="0.6"/>
<line x1="375.52" y1="354.7" x2="375.52" y2="353" stroke="#777" stroke-width="0.6"/>
<line x1="374.32" y1="353" x2="376.72" y2="353" stroke="#777" stroke-width="0.6"/>
<line x1="404.44" y1="314.4" x2="404.44" y2="309.5" stroke="#777" stroke-width="0.6"/>
<line x1="403.24" y1="309.5" x2="405.64" y2="309.5" stroke="#777" stroke-width="0.6"/>
<line x1="407.86" y1="297.4" x2="407.86" y2="296" stroke="#777" stroke-width="0.6"/>
<line x1="406.66" y1="296" x2="409.06" y2="296" stroke="#777" stroke-width="0.6"/>
<line x1="414.7" y1="303.5" x2="414.7" y2="300" stroke="#777" stroke-width="0.6"/>
<line x1="413.5" y1="300" x2="415.9" y2="300" stroke="#777" stroke-width="0.6"/>
<line x1="421.54" y1="296.2" x2="421.54" y2="294.7" stroke="#777" stroke-width="0.6"/>
<line x1="420.34" y1="294.7" x2="422.74" y2="294.7" stroke="#777" stroke-width="0.6"/>
<line x1="428.38" y1="297.7" x2="428.38" y2="295.6" stroke="#777" stroke-width="0.6"/>
<line x1="427.18" y1="295.6" x2="429.58" y2="295.6" stroke="#777" stroke-width="0.6"/>
<line x1="445.48" y1="304.5" x2="445.48" y2="300" stroke="#777" stroke-width="0.6"/>
<line x1="444.28" y1="300" x2="446.68" y2="300" stroke="#777" stroke-width="0.6"/>
<line x1="442.06" y1="306.3" x2="442.06" y2="303.5" stroke="#777" stroke-width="0.6"/>
<line x1="440.86" y1="303.5" x2="443.26" y2="303.5" stroke="#777" stroke-width="0.6"/>
<line x1="438.64" y1="300.6" x2="438.64" y2="298.8" stroke="#777" stroke-width="0.6"/>
<line x1="437.44" y1="298.8" x2="439.84" y2="298.8" stroke="#777" stroke-width="0.6"/>
<line x1="457.3" y1="363.5" x2="457.3" y2="362.2" stroke="#777" stroke-width="0.6"/>
<line x1="456.1" y1="362.2" x2="458.5" y2="362.2" stroke="#777" stroke-width="0.6"/>
<line x1="460.72" y1="363.9" x2="460.72" y2="362.5" stroke="#777" stroke-width="0.6"/>
<line x1="459.52" y1="362.5" x2="461.92" y2="362.5" stroke="#777" stroke-width="0.6"/>
<line x1="467.56" y1="366.2" x2="467.56" y2="364.5" stroke="#777" stroke-width="0.6"/>
<line x1="466.36" y1="364.5" x2="468.76" y2="364.5" stroke="#777" stroke-width="0.6"/>
<line x1="474.4" y1="361.5" x2="474.4" y2="360.2" stroke="#777" stroke-width="0.6"/>
<line x1="473.2" y1="360.2" x2="475.6" y2="360.2" stroke="#777" stroke-width="0.6"/>
<line x1="481.24" y1="360.4" x2="481.24" y2="358.8" stroke="#777" stroke-width="0.6"/>
<line x1="480.04" y1="358.8" x2="482.44" y2="358.8" stroke="#777" stroke-width="0.6"/>
<line x1="484.66" y1="362.6" x2="484.66" y2="361" stroke="#777" stroke-width="0.6"/>
<line x1="483.46" y1="361" x2="485.86" y2="361" stroke="#777" stroke-width="0.6"/>
<line x1="494.92" y1="365.3" x2="494.92" y2="363.8" stroke="#777" stroke-width="0.6"/>
<line x1="493.72" y1="363.8" x2="496.12" y2="363.8" stroke="#777" stroke-width="0.6"/>
<rect x="229.92" y="375.4" width="1.4" height="1.4" fill="#555"/>
<rect x="229.92" y="378.3" width="1.4" height="1.4" fill="#555"/>
<rect x="233.34" y="378.8" width="1.4" height="1.4" fill="#555"/>
<rect x="321.96" y="337.6" width="1.4" height="1.4" fill="#555"/>
<rect x="321.96" y="340.5" width="1.4" height="1.4" fill="#555"/>
<rect x="321.96" y="343.5" width="1.4" height="1.4" fill="#555"/>
<rect x="328.8" y="337.6" width="1.4" height="1.4" fill="#555"/>
<rect x="328.8" y="340.5" width="1.4" height="1.4" fill="#555"/>
<rect x="328.8" y="343.4" width="1.4" height="1.4" fill="#555"/>
<rect x="332.22" y="338.3" width="1.4" height="1.4" fill="#555"/>
<rect x="332.22" y="341.3" width="1.4" height="1.4" fill="#555"/>
<rect x="332.22" y="344.3" width="1.4" height="1.4" fill="#555"/>
<rect x="335.64" y="335.1" width="1.4" height="1.4" fill="#555"/>
<rect x="335.64" y="337.9" width="1.4" height="1.4" fill="#555"/>
<rect x="335.64" y="340.7" width="1.4" height="1.4" fill="#555"/>
<rect x="335.64" y="343.3" width="1.4" height="1.4" fill="#555"/>
<rect x="339.06" y="343.4" width="1.4" height="1.4" fill="#555"/>
<rect x="339.06" y="346.3" width="1.4" height="1.4" fill="#555"/>
<rect x="342.48" y="339.1" width="1.4" height="1.4" fill="#555"/>
<rect x="342.48" y="341.9" width="1.4" height="1.4" fill="#555"/>
<rect x="342.48" y="344.7" width="1.4" height="1.4" fill="#555"/>
<rect x="374.82" y="347.3" width="1.4" height="1.4" fill="#555"/>
<rect x="374.82" y="349.8" width="1.4" height="1.4" fill="#555"/>
<rect x="434.52" y="284.1" width="1.4" height="1.4" fill="#555"/>
<rect x="434.52" y="287.1" width="1.4" height="1.4" fill="#555"/>
<rect x="434.52" y="290" width="1.4" height="1.4" fill="#555"/>
<rect x="437.94" y="290" width="1.4" height="1.4" fill="#555"/>
<rect x="437.94" y="292.9" width="1.4" height="1.4" fill="#555"/>
<rect x="437.94" y="295.8" width="1.4" height="1.4" fill="#555"/>
<rect x="441.36" y="300.1" width="1.4" height="1.4" fill="#555"/>
<rect x="441.36" y="302.7" width="1.4" height="1.4" fill="#555"/>
<rect x="444.78" y="293.9" width="1.4" height="1.4" fill="#555"/>
<rect x="444.78" y="296.7" width="1.4" height="1.4" fill="#555"/>
<rect x="483.96" y="358.5" width="1.4" height="1.4" fill="#555"/>
<line x1="199.9" y1="398.9" x2="498.3" y2="398.9" stroke="#a2a2a2" stroke-width="1.3"/>
<path d="M203.5 398.9V251.6H498.3V398.9" fill="none" stroke="#444" stroke-width="1.1"/>
<text x="198.2" y="402.2" font-size="10" text-anchor="end" fill="#000">0</text>
<line x1="199.9" y1="349.8" x2="203.5" y2="349.8" stroke="#444" stroke-width="1"/>
<text x="198.2" y="353.1" font-size="10" text-anchor="end" fill="#000">50</text>
<line x1="199.9" y1="300.7" x2="203.5" y2="300.7" stroke="#444" stroke-width="1"/>
<text x="198.2" y="304" font-size="10" text-anchor="end" fill="#000">100</text>
<line x1="199.9" y1="251.6" x2="203.5" y2="251.6" stroke="#444" stroke-width="1"/>
<text x="198.2" y="254.9" font-size="10" text-anchor="end" fill="#000">150</text>
<line x1="227.2" y1="399.5" x2="227.2" y2="401.9" stroke="#777" stroke-width="1"/>
<text x="227.2" y="413" font-size="10" text-anchor="middle" fill="#000">16:0</text>
<line x1="276.64" y1="399.5" x2="276.64" y2="401.9" stroke="#777" stroke-width="1"/>
<text x="276.64" y="413" font-size="10" text-anchor="middle" fill="#000">18:0</text>
<line x1="326.08" y1="399.5" x2="326.08" y2="401.9" stroke="#777" stroke-width="1"/>
<text x="326.08" y="413" font-size="10" text-anchor="middle" fill="#000">18:1</text>
<line x1="375.52" y1="399.5" x2="375.52" y2="401.9" stroke="#777" stroke-width="1"/>
<text x="375.52" y="413" font-size="10" text-anchor="middle" fill="#000">18:2</text>
<line x1="424.96" y1="399.5" x2="424.96" y2="401.9" stroke="#777" stroke-width="1"/>
<text x="424.96" y="413" font-size="10" text-anchor="middle" fill="#000">18:3</text>
<line x1="474.4" y1="399.5" x2="474.4" y2="401.9" stroke="#777" stroke-width="1"/>
<text x="474.4" y="413" font-size="10" text-anchor="middle" fill="#000">20:1</text>
<text transform="translate(175.6,323.5) rotate(-90)" font-size="10.3" text-anchor="middle" fill="#000" textLength="71" lengthAdjust="spacingAndGlyphs">FAME (ug/seed)</text>
<text x="160.3" y="242" font-size="16.5" font-family='"Liberation Sans", sans-serif' fill="#111">(c)</text>
<rect x="221.7" y="253.8" width="13" height="4.6" rx="0.35" fill="#ffffff" stroke="#333" stroke-width="0.85"/>
<text x="242.3" y="259.1" font-size="9" fill="#000">WT</text>
<rect x="205.8" y="264.9" width="13" height="4.6" rx="0.35" fill="#ffe8e8" stroke="#333" stroke-width="0.85"/>
<rect x="221.7" y="264.9" width="13" height="4.6" rx="0.35" fill="#ffa3a3" stroke="#333" stroke-width="0.85"/>
<text x="242.3" y="270.2" font-size="9" fill="#000">W5-5-1, 6</text>
<rect x="205.8" y="276.6" width="13" height="4.6" rx="0.35" fill="#ff8080" stroke="#333" stroke-width="0.85"/>
<rect x="221.7" y="276.6" width="13" height="4.6" rx="0.35" fill="#f63a3a" stroke="#333" stroke-width="0.85"/>
<text x="242.3" y="281.9" font-size="9" fill="#000">W8-2-3, 4</text>
<rect x="205.8" y="288.4" width="13" height="4.6" rx="0.35" fill="#cdf6e6" stroke="#333" stroke-width="0.85"/>
<rect x="221.7" y="288.4" width="13" height="4.6" rx="0.35" fill="#a8f7a8" stroke="#333" stroke-width="0.85"/>
<text x="242.3" y="293.7" font-size="9" fill="#000">M5-5-5, 6</text>
<rect x="205.8" y="300.2" width="13" height="4.6" rx="0.35" fill="#3cc83c" stroke="#333" stroke-width="0.85"/>
<rect x="221.7" y="300.2" width="13" height="4.6" rx="0.35" fill="#4ca64c" stroke="#333" stroke-width="0.85"/>
<text x="242.3" y="305.5" font-size="9" fill="#000">M7-2-1, 2</text>
<rect x="205.8" y="311.9" width="13" height="4.6" rx="0.35" fill="#d3e5fd" stroke="#333" stroke-width="0.85"/>
<rect x="221.7" y="311.9" width="13" height="4.6" rx="0.35" fill="#9ac4f6" stroke="#333" stroke-width="0.85"/>
<text x="242.3" y="317.2" font-size="9" fill="#000">WM7-3-1, 2</text>
<rect x="205.8" y="323.7" width="13" height="4.6" rx="0.35" fill="#5a9ef6" stroke="#333" stroke-width="0.85"/>
<rect x="221.7" y="323.7" width="13" height="4.6" rx="0.35" fill="#138fa6" stroke="#333" stroke-width="0.85"/>
<text x="242.3" y="329" font-size="9" fill="#000">WM10-6-1, 2</text>
<path d="M209.3 375.7V372.4H220.8V375.7" fill="none" stroke="#555" stroke-width="0.9"/>
<text x="212.45" y="371.9" font-size="6" text-anchor="middle" fill="#555" font-family='"Liberation Sans", sans-serif'>*</text>
<text x="215.05" y="371.9" font-size="6" text-anchor="middle" fill="#555" font-family='"Liberation Sans", sans-serif'>*</text>
<text x="217.65" y="371.9" font-size="6" text-anchor="middle" fill="#555" font-family='"Liberation Sans", sans-serif'>*</text>
<path d="M237.2 376.7V373.2H247.8V376.7" fill="none" stroke="#555" stroke-width="0.9"/>
<text x="239.9" y="373.2" font-size="6" text-anchor="middle" fill="#555" font-family='"Liberation Sans", sans-serif'>*</text>
<text x="242.5" y="373.2" font-size="6" text-anchor="middle" fill="#555" font-family='"Liberation Sans", sans-serif'>*</text>
<text x="245.1" y="373.2" font-size="6" text-anchor="middle" fill="#555" font-family='"Liberation Sans", sans-serif'>*</text>
<path d="M358.1 337V334.2H368.8V337" fill="none" stroke="#555" stroke-width="0.9"/>
<text x="360.85" y="333.2" font-size="6" text-anchor="middle" fill="#555" font-family='"Liberation Sans", sans-serif'>*</text>
<text x="363.45" y="333.2" font-size="6" text-anchor="middle" fill="#555" font-family='"Liberation Sans", sans-serif'>*</text>
<text x="366.05" y="333.2" font-size="6" text-anchor="middle" fill="#555" font-family='"Liberation Sans", sans-serif'>*</text>
<path d="M372.1 345.3V342.8H382.6V345.3" fill="none" stroke="#555" stroke-width="0.9"/>
<text x="374.75" y="342.4" font-size="6" text-anchor="middle" fill="#555" font-family='"Liberation Sans", sans-serif'>*</text>
<text x="377.35" y="342.4" font-size="6" text-anchor="middle" fill="#555" font-family='"Liberation Sans", sans-serif'>*</text>
<text x="379.95" y="342.4" font-size="6" text-anchor="middle" fill="#555" font-family='"Liberation Sans", sans-serif'>*</text>
<path d="M385.2 333.7V330.1H395.9V333.7" fill="none" stroke="#555" stroke-width="0.9"/>
<text x="387.95" y="330.2" font-size="6" text-anchor="middle" fill="#555" font-family='"Liberation Sans", sans-serif'>*</text>
<text x="390.55" y="330.2" font-size="6" text-anchor="middle" fill="#555" font-family='"Liberation Sans", sans-serif'>*</text>
<text x="393.15" y="330.2" font-size="6" text-anchor="middle" fill="#555" font-family='"Liberation Sans", sans-serif'>*</text>
<path d="M408.1 292.7V289.6H418.8V292.7" fill="none" stroke="#555" stroke-width="0.9"/>
<text x="410.85" y="289.5" font-size="6" text-anchor="middle" fill="#555" font-family='"Liberation Sans", sans-serif'>*</text>
<text x="413.45" y="289.5" font-size="6" text-anchor="middle" fill="#555" font-family='"Liberation Sans", sans-serif'>*</text>
<text x="416.05" y="289.5" font-size="6" text-anchor="middle" fill="#555" font-family='"Liberation Sans", sans-serif'>*</text>
<path d="M421.1 292.7V289.6H431.9V292.7" fill="none" stroke="#555" stroke-width="0.9"/>
<text x="423.9" y="289.5" font-size="6" text-anchor="middle" fill="#555" font-family='"Liberation Sans", sans-serif'>*</text>
<text x="426.5" y="289.5" font-size="6" text-anchor="middle" fill="#555" font-family='"Liberation Sans", sans-serif'>*</text>
<text x="429.1" y="289.5" font-size="6" text-anchor="middle" fill="#555" font-family='"Liberation Sans", sans-serif'>*</text>
<path d="M470.6 357.5V354.2H481.3V357.5" fill="none" stroke="#555" stroke-width="0.9"/>
<text x="473.35" y="353.6" font-size="6" text-anchor="middle" fill="#555" font-family='"Liberation Sans", sans-serif'>*</text>
<text x="475.95" y="353.6" font-size="6" text-anchor="middle" fill="#555" font-family='"Liberation Sans", sans-serif'>*</text>
<text x="478.55" y="353.6" font-size="6" text-anchor="middle" fill="#555" font-family='"Liberation Sans", sans-serif'>*</text>
<rect x="461.4" y="287.3" width="2.1" height="25.9" fill="#ffffff" stroke="#444" stroke-width="0.45"/>
<rect x="463.9" y="287.8" width="2.1" height="25.4" fill="#ffe8e8" stroke="#444" stroke-width="0.45"/>
<rect x="466.4" y="288.6" width="2.1" height="24.6" fill="#ffa3a3" stroke="#444" stroke-width="0.45"/>
<rect x="468.9" y="288.6" width="2.1" height="24.6" fill="#ff8080" stroke="#444" stroke-width="0.45"/>
<rect x="471.4" y="288.2" width="2.1" height="25" fill="#f63a3a" stroke="#444" stroke-width="0.45"/>
<rect x="473.9" y="285" width="2.1" height="28.2" fill="#cdf6e6" stroke="#444" stroke-width="0.45"/>
<rect x="476.4" y="286" width="2.1" height="27.2" fill="#a8f7a8" stroke="#444" stroke-width="0.45"/>
<rect x="478.9" y="282.8" width="2.1" height="30.4" fill="#3cc83c" stroke="#444" stroke-width="0.45"/>
<rect x="481.4" y="283.7" width="2.1" height="29.5" fill="#4ca64c" stroke="#444" stroke-width="0.45"/>
<rect x="483.9" y="287.8" width="2.1" height="25.4" fill="#d3e5fd" stroke="#444" stroke-width="0.45"/>
<rect x="486.4" y="288.6" width="2.1" height="24.6" fill="#9ac4f6" stroke="#444" stroke-width="0.45"/>
<rect x="488.9" y="289.7" width="2.1" height="23.5" fill="#5a9ef6" stroke="#444" stroke-width="0.45"/>
<rect x="491.4" y="290.4" width="2.1" height="22.8" fill="#138fa6" stroke="#444" stroke-width="0.45"/>
<line x1="462.45" y1="287" x2="462.45" y2="286.2" stroke="#888" stroke-width="0.5"/>
<line x1="461.55" y1="286.2" x2="463.35" y2="286.2" stroke="#888" stroke-width="0.5"/>
<line x1="474.95" y1="284.7" x2="474.95" y2="281.5" stroke="#888" stroke-width="0.5"/>
<line x1="474.05" y1="281.5" x2="475.85" y2="281.5" stroke="#888" stroke-width="0.5"/>
<line x1="479.95" y1="282.5" x2="479.95" y2="278.5" stroke="#888" stroke-width="0.5"/>
<line x1="479.05" y1="278.5" x2="480.85" y2="278.5" stroke="#888" stroke-width="0.5"/>
<line x1="482.45" y1="283.4" x2="482.45" y2="279.5" stroke="#888" stroke-width="0.5"/>
<line x1="481.55" y1="279.5" x2="483.35" y2="279.5" stroke="#888" stroke-width="0.5"/>
<line x1="492.45" y1="290.1" x2="492.45" y2="287.5" stroke="#888" stroke-width="0.5"/>
<line x1="491.55" y1="287.5" x2="493.35" y2="287.5" stroke="#888" stroke-width="0.5"/>
<line x1="489.95" y1="289.4" x2="489.95" y2="288.2" stroke="#888" stroke-width="0.5"/>
<line x1="489.05" y1="288.2" x2="490.85" y2="288.2" stroke="#888" stroke-width="0.5"/>
<line x1="477.45" y1="285.7" x2="477.45" y2="284.5" stroke="#888" stroke-width="0.5"/>
<line x1="476.55" y1="284.5" x2="478.35" y2="284.5" stroke="#888" stroke-width="0.5"/>
<line x1="464.95" y1="287.5" x2="464.95" y2="286.8" stroke="#888" stroke-width="0.5"/>
<line x1="464.05" y1="286.8" x2="465.85" y2="286.8" stroke="#888" stroke-width="0.5"/>
<path d="M459.9 257.6H494.4V313.2H459.9Z" fill="none" stroke="#999" stroke-width="1.1"/>
<line x1="457.9" y1="313.2" x2="459.9" y2="313.2" stroke="#999" stroke-width="0.8"/>
<text x="456.9" y="315.2" font-size="5.5" text-anchor="end" fill="#333">0</text>
<line x1="457.9" y1="299.3" x2="459.9" y2="299.3" stroke="#999" stroke-width="0.8"/>
<text x="456.9" y="301.3" font-size="5.5" text-anchor="end" fill="#333">2</text>
<line x1="457.9" y1="285.4" x2="459.9" y2="285.4" stroke="#999" stroke-width="0.8"/>
<text x="456.9" y="287.4" font-size="5.5" text-anchor="end" fill="#333">4</text>
<line x1="457.9" y1="271.5" x2="459.9" y2="271.5" stroke="#999" stroke-width="0.8"/>
<text x="456.9" y="273.5" font-size="5.5" text-anchor="end" fill="#333">6</text>
<line x1="457.9" y1="257.6" x2="459.9" y2="257.6" stroke="#999" stroke-width="0.8"/>
<text x="456.9" y="259.6" font-size="5.5" text-anchor="end" fill="#333">8</text>
<line x1="477.4" y1="313.2" x2="477.4" y2="315.0" stroke="#999" stroke-width="0.8"/>
<text x="477.4" y="321" font-size="5.8" text-anchor="middle" fill="#333">20:0</text>
</svg></body></html>
